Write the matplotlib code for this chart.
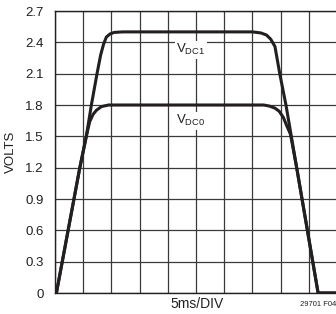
import matplotlib
matplotlib.use("Agg")
import matplotlib.pyplot as plt

# ── DATA (time in ms, 5 ms per division; volts) ─────────────
t_dc1 = [0.25, 4.4, 5.55, 6.45, 7.45, 8.1, 8.6, 9.1, 9.75, 10.5, 12.0, 15.0,
         35.0, 36.5, 37.5, 38.25, 39.0, 39.85, 40.95, 42.85, 46.65, 50.0]
v_dc1 = [0.0, 1.2, 1.5, 1.8, 2.1, 2.28, 2.38, 2.45, 2.48, 2.495, 2.5, 2.5,
         2.5, 2.49, 2.47, 2.43, 2.36, 2.1, 1.8, 1.2, 0.0, 0.0]

t_dc0 = [0.25, 4.4, 5.55, 6.15, 6.75, 7.35, 8.25, 9.5, 12.5,
         37.0, 38.0, 39.0, 39.75, 40.5, 41.1, 41.75, 42.85, 46.65, 50.0]
v_dc0 = [0.0, 1.2, 1.5, 1.64, 1.71, 1.75, 1.785, 1.8, 1.8,
         1.8, 1.79, 1.77, 1.74, 1.68, 1.6, 1.52, 1.2, 0.0, 0.0]

y_ticks = [0, 0.3, 0.6, 0.9, 1.2, 1.5, 1.8, 2.1, 2.4, 2.7]
y_labels = ["0", "0.3", "0.6", "0.9", "1.2", "1.5", "1.8", "2.1", "2.4", "2.7"]
x_ticks = [0, 5, 10, 15, 20, 25, 30, 35, 40, 45, 50]

plt.rcParams["font.family"] = ["Liberation Sans", "DejaVu Sans"]
plt.rcParams["mathtext.default"] = "regular"

ink = "#231f20"

fig = plt.figure(figsize=(3.36, 3.14), dpi=100)
ax = fig.add_axes([55 / 336, 21 / 314, 282 / 336, 282 / 314])

ax.plot(t_dc1, v_dc1, color=ink, lw=2.2, solid_joinstyle="round", zorder=3)
ax.plot(t_dc0, v_dc0, color=ink, lw=2.2, solid_joinstyle="round", zorder=3)

ax.set_xlim(0, 50)
ax.set_ylim(0, 2.7)
ax.set_xticks(x_ticks)
ax.set_xticklabels([])
ax.set_yticks(y_ticks)
ax.set_yticklabels(y_labels)
ax.tick_params(length=0, labelsize=9.5, colors=ink, pad=8)
ax.grid(True, color="#3a3a3a", lw=0.9)
ax.set_axisbelow(True)
for s in ["top", "left", "bottom"]:
    ax.spines[s].set_color(ink)
    ax.spines[s].set_linewidth(1.0)
ax.spines["right"].set_visible(False)

box = dict(facecolor="white", edgecolor="none", pad=1)
ax.text(24.1, 2.33, "V$_{DC1}$", ha="center", va="center", fontsize=9.5,
        color=ink, bbox=box, zorder=4)
ax.text(24.1, 1.65, "V$_{DC0}$", ha="center", va="center", fontsize=9.5,
        color=ink, bbox=box, zorder=4)

fig.text(11 / 336, 0.5 + (314 - 2 * 152) / 314 / 2, "VOLTS", rotation=90,
         ha="center", va="center", fontsize=9.5, color=ink)
fig.text(197 / 336, 10 / 314, "5ms/DIV", ha="center", va="center",
         fontsize=10, color=ink)
fig.text(336 / 336, 9 / 314, "29701 F04", ha="right", va="center",
         fontsize=5.5, color=ink)

fig.savefig("out.png", dpi=100)
